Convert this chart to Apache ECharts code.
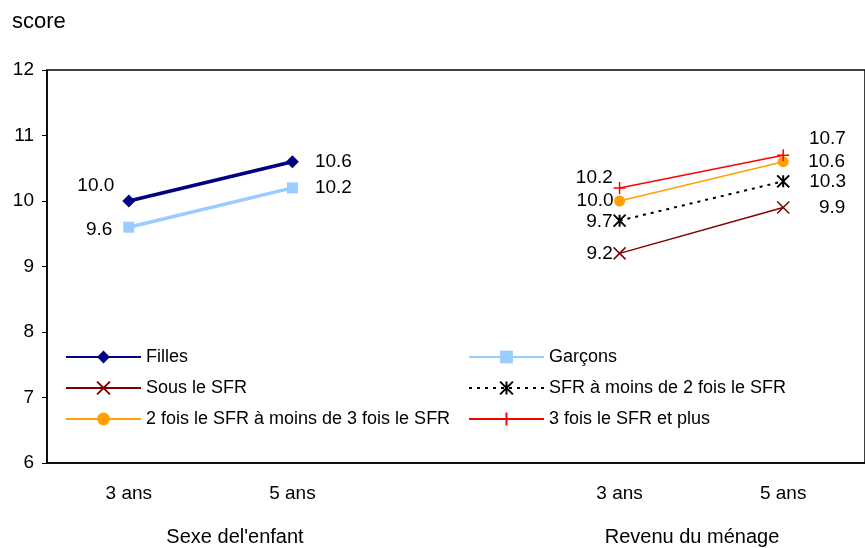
<!DOCTYPE html>
<html>
<head>
<meta charset="utf-8">
<script src="https://cdn.jsdelivr.net/npm/echarts@6/dist/echarts.min.js"></script>
<style>
html,body{margin:0;padding:0;background:#fff;}
#c{width:865px;height:548px;}
</style>
</head>
<body>
<div id="c"></div>
<script>
var categories = ['3 ans', '5 ans', '', '3 ans', '5 ans'];
var groupLabels = ["Sexe del'enfant", 'Revenu du ménage'];
var yTicks = [6, 7, 8, 9, 10, 11, 12];
var filles = [10.0, 10.6, null, null, null];
var garcons = [9.6, 10.2, null, null, null];
var sousSFR = [null, null, null, 9.2, 9.9];
var sfr1a2 = [null, null, null, 9.7, 10.3];
var sfr2a3 = [null, null, null, 10.0, 10.6];
var sfr3plus = [null, null, null, 10.2, 10.7];
var names = ['Filles', 'Garçons', 'Sous le SFR', 'SFR à moins de 2 fois le SFR', '2 fois le SFR à moins de 3 fois le SFR', '3 fois le SFR et plus'];

var FONT = '"Liberation Sans", Arial, sans-serif';
var chart = echarts.init(document.getElementById('c'), null, {renderer: 'canvas'});

function mkData(arr, leftOff, rightOff) {
  var first = true;
  return arr.map(function (v, i) {
    if (v === null) return null;
    var isLeft = first; first = false;
    var off = isLeft ? leftOff : rightOff;
    return {
      value: v,
      label: {
        show: true,
        position: isLeft ? 'left' : 'right',
        distance: off[0],
        offset: [off[2] || 0, off[1]],
        formatter: function (p) { return p.value.toFixed(1); },
        color: '#000', fontSize: 19, fontFamily: FONT
      }
    };
  });
}

var X = 'path://M0,0L10,10M10,0L0,10';
var AST = 'path://M0,0L10,10M10,0L0,10M5,0L5,10';
var PLUS = 'path://M5,0L5,10M0,5L10,5';

var series = [
  {name: names[0], data: mkData(filles, [8, -15], [16, 0]), color: '#000080',
   lineStyle: {width: 3.5, color: '#000080'}, symbol: 'diamond', symbolSize: 13,
   itemStyle: {color: '#000080'}},
  {name: names[1], data: mkData(garcons, [11, 3], [17, 0]), color: '#99CCFF',
   lineStyle: {width: 3.5, color: '#99CCFF'}, symbol: 'rect', symbolSize: 11,
   itemStyle: {color: '#99CCFF'}},
  {name: names[2], data: mkData(sousSFR, [0, 0], [19, 0, 10]), color: '#800000',
   lineStyle: {width: 1.5, color: '#800000'}, symbol: X, symbolSize: 12,
   itemStyle: {color: '#800000', borderColor: '#800000', borderWidth: 1.5}},
  {name: names[3], data: mkData(sfr1a2, [0, 1], [19, 0]), color: '#000',
   lineStyle: {width: 2, color: '#000', type: [3, 5]}, symbol: AST, symbolSize: 12,
   itemStyle: {color: '#000', borderColor: '#000', borderWidth: 2}},
  {name: names[4], data: mkData(sfr2a3, [0.5, 0], [19.5, 0]), color: '#FFA000',
   lineStyle: {width: 1.5, color: '#FFA000'}, symbol: 'circle', symbolSize: 11,
   itemStyle: {color: '#FFA000'}},
  {name: names[5], data: mkData(sfr3plus, [0, -10], [19, -16]), color: '#FF0000',
   lineStyle: {width: 1.5, color: '#FF0000'}, symbol: PLUS, symbolSize: 12,
   itemStyle: {color: '#FF0000', borderColor: '#FF0000', borderWidth: 1.5}}
].map(function (s) {
  s.type = 'line';
  s.showAllSymbol = true;
  s.connectNulls = false;
  s.animation = false;
  s.z = 3;
  return s;
});

var legendCommon = {
  orient: 'vertical',
  top: 348,
  itemWidth: 75,
  itemHeight: 16,
  itemGap: 13,
  padding: 0,
  textStyle: {fontSize: 18, fontFamily: FONT, color: '#000', lineHeight: 16, padding: [0, 0, 0, 0]},
  selectedMode: false
};

chart.setOption({
  animation: false,
  backgroundColor: '#fff',
  textStyle: {fontFamily: FONT},
  grid: {left: 47, right: -7, top: 70, bottom: 85, show: true, borderColor: '#000', borderWidth: 1.5, backgroundColor: 'transparent'},
  legend: [
    Object.assign({}, legendCommon, {left: 65, data: [names[0], names[2], names[4]]}),
    Object.assign({}, legendCommon, {left: 468, data: [names[1], names[3], names[5]]})
  ],
  xAxis: {
    type: 'category',
    data: categories,
    boundaryGap: true,
    axisLine: {show: true, lineStyle: {color: '#000', width: 1.5}},
    axisTick: {show: false},
    axisLabel: {color: '#000', fontSize: 19, fontFamily: FONT, margin: 21, interval: 0}
  },
  yAxis: {
    type: 'value',
    min: yTicks[0],
    max: yTicks[yTicks.length - 1],
    interval: 1,
    splitLine: {show: false},
    axisLine: {show: true, lineStyle: {color: '#000', width: 1.5}},
    axisTick: {show: true, inside: false, length: 5, lineStyle: {color: '#000', width: 1}},
    axisLabel: {color: '#000', fontSize: 19, fontFamily: FONT, margin: 13}
  },
  graphic: [
    {type: 'text', left: 12, top: 11, style: {text: 'score', fontSize: 22, fontFamily: FONT, fill: '#000'}},
    {type: 'text', x: 235, y: 537, style: {text: groupLabels[0], fontSize: 20, fontFamily: FONT, fill: '#000', align: 'center', verticalAlign: 'middle'}},
    {type: 'text', x: 692, y: 537, style: {text: groupLabels[1], fontSize: 20, fontFamily: FONT, fill: '#000', align: 'center', verticalAlign: 'middle'}}
  ],
  series: series
});
</script>
</body>
</html>
